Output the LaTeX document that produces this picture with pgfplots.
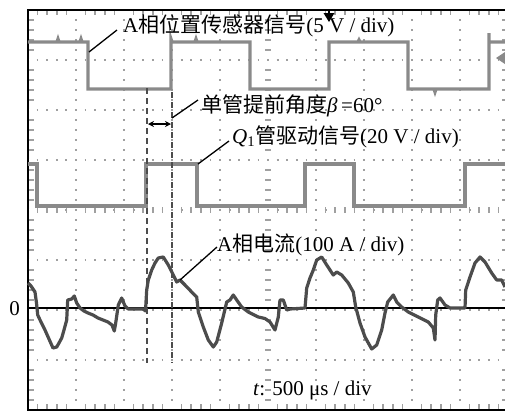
\documentclass[border=0pt]{standalone}
\usepackage{fontspec}
\setmainfont{Liberation Serif}
\newfontfamily\cjk{Noto Sans CJK SC}
\usepackage{pgfplots}
\pgfplotsset{compat=1.18}
\usetikzlibrary{arrows.meta}
\definecolor{sig}{HTML}{8A8A8A}
\definecolor{cur}{HTML}{4C4C4C}
\definecolor{grd}{HTML}{A0A0A0}
\newcommand{\tf}{\fontsize{21bp}{24bp}\selectfont}
\begin{document}
\begin{tikzpicture}
\begin{axis}[
  scale only axis, width=477bp, height=400bp,
  xmin=28, xmax=505, ymin=10, ymax=410, y dir=reverse,
  axis lines=none, clip=false,
]
% graticule dotted grid
\pgfplotsinvokeforeach{76,124,172,220,316,364,412,460}{
  \draw[grd, line width=1.8bp, dash pattern=on 1.8bp off 8.2bp, dash phase=0.9bp] (axis cs:#1,10) -- (axis cs:#1,410);
}
\pgfplotsinvokeforeach{60,110,160,260,310,360}{
  \draw[grd, line width=1.8bp, dash pattern=on 1.8bp off 7.8bp, dash phase=0.9bp] (axis cs:28,#1) -- (axis cs:505,#1);
}
% center axes with minor ticks
\draw[grd, line width=1.8bp, dash pattern=on 1.8bp off 8.2bp, dash phase=0.9bp] (axis cs:268,10) -- (axis cs:268,410);
\draw[grd, line width=1.8bp, dash pattern=on 1.8bp off 7.8bp, dash phase=0.9bp] (axis cs:28,210) -- (axis cs:505,210);
\pgfplotsinvokeforeach{20,30,40,50,70,80,90,100,120,130,140,150,170,180,190,200,220,230,240,250,270,280,290,300,320,330,340,350,370,380,390,400}{
  \draw[grd, line width=1.6bp] (axis cs:265,#1) -- (axis cs:271,#1);
  \draw[grd, line width=1.6bp] (axis cs:29,#1) -- (axis cs:34,#1);
  \draw[grd, line width=1.6bp] (axis cs:502,#1) -- (axis cs:505,#1);
}
\pgfplotsinvokeforeach{37.6,47.2,56.8,66.4,85.6,95.2,104.8,114.4,133.6,143.2,152.8,162.4,181.6,191.2,200.8,210.4,229.6,239.2,248.8,258.4,277.6,287.2,296.8,306.4,325.6,335.2,344.8,354.4,373.6,383.2,392.8,402.4,421.6,431.2,440.8,450.4,469.6,479.2,488.8,498.4}{
  \draw[grd, line width=1.6bp] (axis cs:#1,207) -- (axis cs:#1,213);
  \draw[grd, line width=1.6bp] (axis cs:#1,11) -- (axis cs:#1,15);
  \draw[grd, line width=1.6bp] (axis cs:#1,404) -- (axis cs:#1,409);
}
% frame (right edge is cut off)
\draw[black, line width=2.5bp] (axis cs:505,10) -- (axis cs:28,10) -- (axis cs:28,410) -- (axis cs:505,410);
% zero line
\draw[black, line width=2.2bp] (axis cs:28,308) -- (axis cs:505,308);
% A-phase position sensor signal
\addplot[sig, line width=3.2bp, line join=miter] coordinates {
(28,42) (57,42) (58,39) (59,42) (80,42) (81,39) (82,42) (88,42) (88,89) (171,89) (171,39) (172,42) (195,42) (196,39) (197,42) (250,42) (250,89) (329,89) (329,42) (358,42) (359,40) (360,42) (408,42) (408,89) (434,89) (435,92) (436,89) (489,89) (489,33) (489,42) (505,42)};
% Q1 drive signal
\addplot[sig, line width=3.2bp, line join=miter] coordinates {
(28,164) (37,164) (37,206) (146,206) (146,164) (197,164) (197,206) (305,206) (305,164) (354,164) (354,206) (465,206) (465,164) (505,164)};
% A-phase current
\addplot[cur, line width=3.2bp, line join=round] coordinates {
(28,283) (31,286) (35,292) (36.5,303) (37.7,315) (41,322) (45,330) (49,339) (53,348) (56.7,347) (59,343) (61.7,338) (64,330) (66.7,320) (67.7,300) (71.7,299) (74.3,296) (76.7,303) (80,308) (84,311) (88,313) (93,315) (98,318) (103,320) (108,322) (112,325) (114.3,331) (115.7,323) (118.3,305) (121.7,298) (125,306) (128.3,309) (135,309) (143.3,309) (145.5,311) (146.7,290) (148.3,280) (151.7,270) (155,263) (158.3,258) (163.3,257) (168.3,265) (173.3,275) (176.7,282) (180,280) (185,285) (191.7,292) (196.7,297) (198.3,312) (203.3,327) (208.3,340) (213.3,347) (216.7,342) (221.7,323) (226.7,302) (230,300) (233.3,295) (236.7,300) (241.7,307) (248.3,312) (258.3,317) (265,318.5) (270,322) (275,330) (278.3,317) (280,300) (283.3,300) (286.7,310) (290,309) (305,308) (306.7,288) (310,278) (313.3,270) (316.7,260) (321.7,257) (326.7,265) (333.3,275) (336.7,272) (341.7,275) (348.3,283) (353.3,292) (355.7,307) (360,323) (365,337) (371.7,349) (376.7,345) (381.7,330) (385,313) (387.7,302) (393.3,295) (396.7,302) (401.7,307) (408.3,312) (418.3,317) (428.3,322) (433.3,328) (435,340) (435.7,315) (437.7,300) (440,298) (445,305) (450,308) (465,308) (465.7,290) (470,277) (475,263) (480,257) (485,262) (491.7,273) (496.7,280) (501.7,280) (505,287)};
% dashed guide lines and double arrow
\draw[cur, line width=1.3bp, dash pattern=on 6bp off 4bp] (axis cs:147,88) -- (axis cs:147,363);
\draw[cur, line width=1.3bp, dash pattern=on 6bp off 4bp] (axis cs:172,92) -- (axis cs:172,363);
\draw[black, line width=1.3bp, {Stealth[length=6bp,width=6bp]}-{Stealth[length=6bp,width=6bp]}] (axis cs:148,124) -- (axis cs:171,124);
% markers
\draw[black, line width=1.3bp] (axis cs:329,10) -- (axis cs:329,15);
\fill[black] (axis cs:323.5,13) -- (axis cs:334.5,13) -- (axis cs:329,22) -- cycle;
\fill[sig] (axis cs:496,58) -- (axis cs:505,52) -- (axis cs:505,64) -- cycle;
% leader lines
\draw[black, line width=1.3bp] (axis cs:89,52) -- (axis cs:117,30);
\draw[black, line width=1.3bp] (axis cs:172,118) -- (axis cs:198,100);
\draw[black, line width=1.3bp] (axis cs:198,164) -- (axis cs:229,141);
\draw[black, line width=1.3bp] (axis cs:180,280) -- (axis cs:217,247);
% texts
\node[anchor=west, inner sep=0pt, font=\tf] at (axis cs:123,26) {A{\cjk 相位置传感器信号}(5 V / div)};
\node[anchor=west, inner sep=0pt, font=\tf] at (axis cs:201,106) {{\cjk 单管提前角度}\textit{β}\,=60°};
\node[anchor=west, inner sep=0pt, font=\tf] at (axis cs:232,137) {\textit{Q}\textsubscript{1}{\cjk 管驱动信号}(20 V / div)};
\node[anchor=west, inner sep=0pt, font=\tf] at (axis cs:217,245) {A{\cjk 相电流}(100 A / div)};
\node[anchor=west, inner sep=0pt, font=\tf] at (axis cs:253,390) {\textit{t}: 500 μs / div};
\node[anchor=east, inner sep=0pt, font=\tf] at (axis cs:20,309) {0};
% bounding box corners
\coordinate (bbA) at (axis cs:0,411);
\coordinate (bbB) at (axis cs:505,0);
\end{axis}
\pgfresetboundingbox
\path[use as bounding box] (bbA) rectangle (bbB);
\end{tikzpicture}
\end{document}
